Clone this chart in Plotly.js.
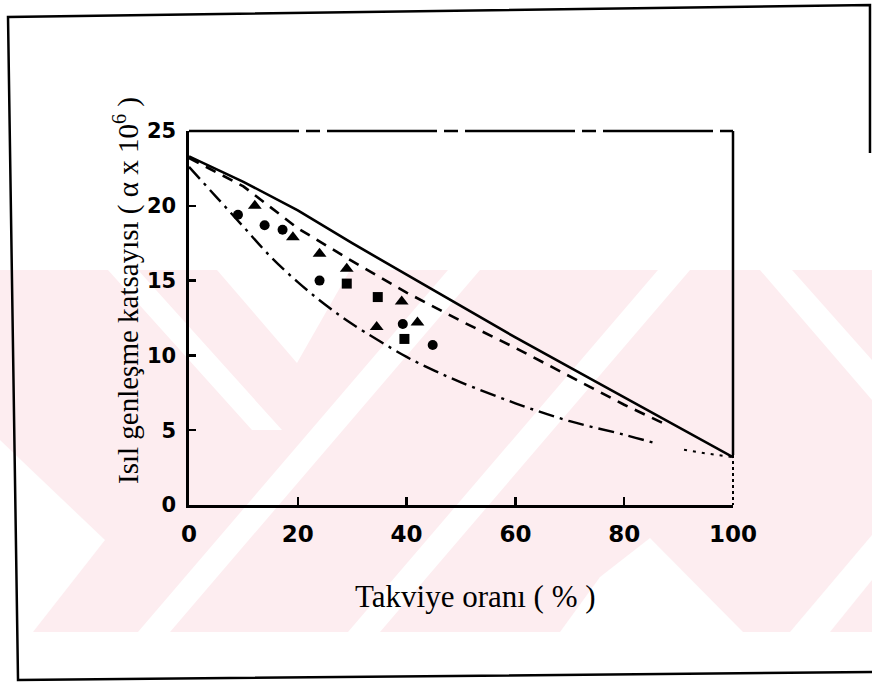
<!DOCTYPE html>
<html>
<head>
<meta charset="utf-8">
<script src="https://cdn.plot.ly/plotly-3.0.1.min.js"></script>
<style>html,body{margin:0;padding:0;background:#fff;}#chart{width:872px;height:682px;}</style>
</head>
<body>
<div id="chart"></div>
<script>
// ---- data ----
const xTicks = [0, 20, 40, 60, 80, 100];
const xTickText = ['0', '20', '40', '60', '80', '100'];
const yTicks = [0, 5, 10, 15, 20, 25];
const yTickText = ['0', '5', '10', '15', '20', '25'];

const xSolid = [0, 10, 20, 30, 40, 50, 60, 70, 80, 90, 100];
const ySolid = [23.3, 21.6, 19.7, 17.5, 15.4, 13.3, 11.2, 9.2, 7.2, 5.2, 3.2];

const xDash = [0, 10, 20, 30, 40, 50, 60, 70, 80, 87];
const yDash = [23.2, 21.3, 18.5, 16.3, 14.2, 12.3, 10.5, 8.6, 6.7, 5.5];

const xLow = [0, 5, 10, 15, 20, 25, 30, 40, 45, 50, 60, 70, 80, 86];
const yLow = [22.6, 20.6, 18.6, 16.6, 14.9, 13.4, 12.1, 9.9, 9.0, 8.2, 6.8, 5.6, 4.7, 4.1];
const xLowTail = [91, 95, 100];
const yLowTail = [3.7, 3.45, 3.2];

const xCircle = [9.0, 13.9, 17.2, 24.0, 39.3, 44.8];
const yCircle = [19.4, 18.7, 18.4, 15.0, 12.1, 10.7];
const xTri = [12.1, 19.1, 24.0, 29.0, 39.1, 34.5, 42.0];
const yTri = [20.0, 17.9, 16.8, 15.8, 13.6, 11.9, 12.2];
const xSq = [29.0, 34.7, 39.6];
const ySq = [14.8, 13.9, 11.1];

const yTitle = 'Isıl genleşme katsayısı ( α x 10<sup>6</sup> )';
const xTitle = 'Takviye oranı ( % )';

// ---- layout helpers (pixel -> paper) ----
const L = 189, R = 733, T = 131, B = 505;
const W = 872, H = 682;
const px = v => (v - L) / (R - L);
const py = v => (B - v) / (B - T);
function poly(pts) {
  return 'M ' + pts.map(p => px(p[0]).toFixed(4) + ',' + py(p[1]).toFixed(4)).join(' L ') + ' Z';
}
const pink = 'rgb(253,237,240)';
const wmShapes = [];
wmShapes.push({type:'path', xref:'paper', yref:'paper', layer:'below',
  path: poly([[0,270],[W,270],[W,632],[0,632]]), fillcolor: pink, line:{width:0}});
const whites = [
  [[0,632],[33,632],[105,540],[0,440]],
  [[138,632],[170,632],[480,270],[448,270]],
  [[217,270],[350,270],[297,363]],
  [[108,270],[138,270],[282,430],[252,430]],
  [[348,632],[380,632],[690,270],[658,270]],
  [[560,632],[600,577],[650,538],[743,632]],
  [[760,270],[792,270],[872,360],[872,400]],
  [[790,632],[830,632],[872,580],[872,535]]
];
whites.forEach(p => wmShapes.push({type:'path', xref:'paper', yref:'paper', layer:'below',
  path: poly(p), fillcolor:'#ffffff', line:{width:0}}));

const frameShapes = [
  {type:'line', xref:'paper', yref:'paper', x0:0, x1:1, y0:1, y1:1,
   line:{color:'#000', width:2.5, dash:'110px,7px,14px,7px'}},
  {type:'line', xref:'paper', yref:'paper', x0:1, x1:1, y0:1, y1:py(455),
   line:{color:'#000', width:2.5}},
  {type:'line', xref:'paper', yref:'paper', x0:1, x1:1, y0:py(455), y1:0,
   line:{color:'#000', width:2, dash:'dot'}},
  {type:'path', xref:'paper', yref:'paper',
   path: 'M ' + [[870,153],[870,5],[8,17],[18,680],[872,672]].map(p => px(p[0]).toFixed(4)+','+py(p[1]).toFixed(4)).join(' L '),
   line:{color:'#000', width:2.5}}
];

const traces = [
  {x:xSolid, y:ySolid, mode:'lines', line:{color:'#000', width:2.6}, hoverinfo:'skip'},
  {x:xDash, y:yDash, mode:'lines', line:{color:'#000', width:2.6, dash:'11px,8px'}, hoverinfo:'skip'},
  {x:xLow, y:yLow, mode:'lines', line:{color:'#000', width:2.4, dash:'16px,6px,3px,6px', shape:'spline'}, hoverinfo:'skip'},
  {x:xLowTail, y:yLowTail, mode:'lines', line:{color:'#000', width:2, dash:'3px,6px'}, hoverinfo:'skip'},
  {x:xCircle, y:yCircle, mode:'markers', marker:{symbol:'circle', size:10, color:'#000'}},
  {x:xTri, y:yTri, mode:'markers', marker:{symbol:'triangle-up', size:12, color:'#000'}},
  {x:xSq, y:ySq, mode:'markers', marker:{symbol:'square', size:10, color:'#000'}}
];

const layout = {
  width: W, height: H,
  margin: {l:L, r:W-R, t:T, b:H-B, pad:0},
  paper_bgcolor:'#fff', plot_bgcolor:'rgba(0,0,0,0)',
  showlegend:false,
  xaxis: {range:[0,100], tickvals:xTicks, ticktext:xTickText, ticks:'inside', ticklen:8, tickwidth:2.5,
    tickcolor:'#000', showline:true, linecolor:'#000', linewidth:2.6, showgrid:false, zeroline:false,
    tickfont:{family:'DejaVu Sans', size:23, color:'#000', weight:'bold'}, ticklabelstandoff:7, fixedrange:true},
  yaxis: {range:[0,25], tickvals:yTicks, ticktext:yTickText, ticks:'inside', ticklen:7, tickwidth:2.5,
    tickcolor:'#000', showline:true, linecolor:'#000', linewidth:2.6, showgrid:false, zeroline:false,
    tickfont:{family:'DejaVu Sans', size:21, color:'#000', weight:'bold'}, ticklabelstandoff:6, fixedrange:true},
  shapes: wmShapes.concat(frameShapes),
  annotations: [
    {text:yTitle, xref:'paper', yref:'paper', x:px(126), y:py(291), textangle:-90, showarrow:false,
     xanchor:'center', yanchor:'middle', font:{family:'Liberation Serif', size:29, color:'#000'}},
    {text:xTitle, xref:'paper', yref:'paper', x:px(475), y:py(596), showarrow:false,
     xanchor:'center', yanchor:'middle', font:{family:'Liberation Serif', size:31, color:'#000'}}
  ]
};
Plotly.newPlot('chart', traces, layout, {displayModeBar:false, staticPlot:true});
</script>
</body>
</html>
